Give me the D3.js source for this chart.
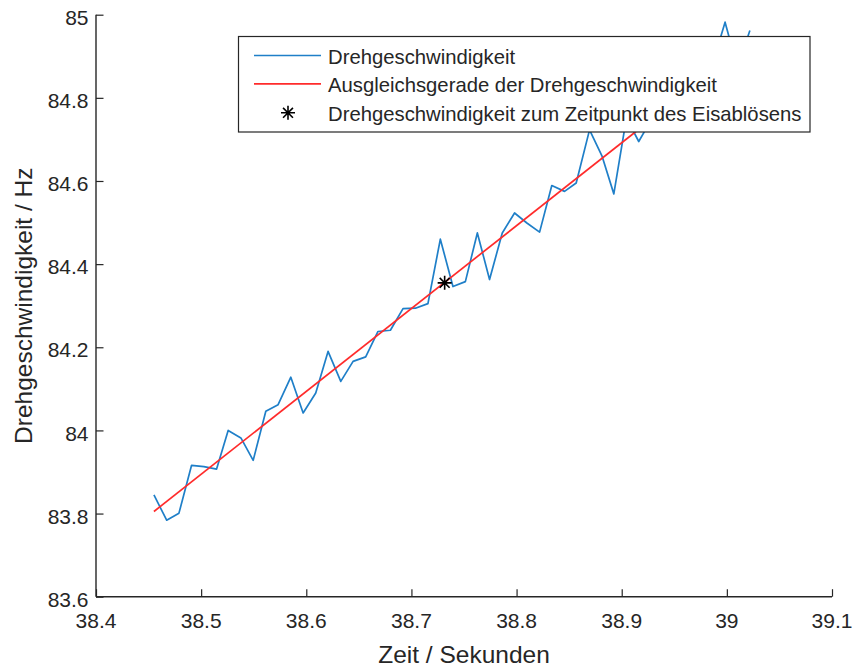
<!DOCTYPE html>
<html>
<head>
<meta charset="utf-8">
<script src="https://cdn.jsdelivr.net/npm/d3@7/dist/d3.min.js"></script>
<style>
  html, body { margin: 0; padding: 0; background: #fff; }
  svg { display: block; font-family: "Liberation Sans", Arial, Helvetica, sans-serif; }
</style>
</head>
<body>
<svg id="chart" width="852" height="668"></svg>
<script>
// ---- data ----
const timeValues = [
  38.4551, 38.4672, 38.4789, 38.4909, 38.5026, 38.5147, 38.5257, 38.5378, 38.5495, 38.5615,
  38.5732, 38.5853, 38.5970, 38.6090, 38.6207, 38.6328, 38.6445, 38.6565, 38.6682, 38.6800,
  38.6920, 38.7038, 38.7157, 38.7275, 38.7395, 38.7513, 38.7627, 38.7743, 38.7864, 38.7981,
  38.8098, 38.8219, 38.8335, 38.8456, 38.8567, 38.8694, 38.8814, 38.8925, 38.9045, 38.9162,
  38.9280, 38.9397, 38.9515, 38.9634, 38.9748, 38.9865, 38.9983, 39.0100, 39.0219
];
const speedValues = [
  83.845, 83.784, 83.801, 83.916, 83.913, 83.907, 84.000, 83.982, 83.928, 84.046,
  84.062, 84.128, 84.042, 84.090, 84.190, 84.118, 84.166, 84.177, 84.238, 84.241,
  84.293, 84.294, 84.305, 84.460, 84.346, 84.358, 84.475, 84.363, 84.475, 84.523,
  84.499, 84.477, 84.589, 84.575, 84.595, 84.723, 84.659, 84.569, 84.752, 84.695,
  84.747, 84.776, 84.796, 84.832, 84.839, 84.882, 84.982, 84.873, 84.962
];
const fitTime = [38.4551, 39.0219];
const fitSpeed = [83.805, 84.935];
const markTime = [38.7316];
const markSpeed = [84.355];

const xTicks = [38.4, 38.5, 38.6, 38.7, 38.8, 38.9, 39.0, 39.1];
const xTickLabels = ["38.4", "38.5", "38.6", "38.7", "38.8", "38.9", "39", "39.1"];
const yTicks = [83.6, 83.8, 84.0, 84.2, 84.4, 84.6, 84.8, 85.0];
const yTickLabels = ["83.6", "83.8", "84", "84.2", "84.4", "84.6", "84.8", "85"];

const legendLabels = [
  "Drehgeschwindigkeit",
  "Ausgleichsgerade der Drehgeschwindigkeit",
  "Drehgeschwindigkeit zum Zeitpunkt des Eisablösens"
];
const xLabel = "Zeit / Sekunden";
const yLabel = "Drehgeschwindigkeit / Hz";

// ---- layout ----
const axisColor = "#262626";
const blue = "#1f7fc8";
const red = "#ff2b2b";
const plot = { left: 96, right: 832, top: 14.7, bottom: 596.7 };

const svg = d3.select("#chart");

const x = d3.scaleLinear().domain([38.4, 39.1]).range([plot.left, plot.right]);
const y = d3.scaleLinear().domain([83.6, 85.0]).range([plot.bottom, plot.top]);

// axes (ticks pointing inward, MATLAB style, box off)
const tickLen = 7.5;
const xAxis = d3.axisBottom(x).tickValues(xTicks).tickSize(-tickLen).tickFormat(() => "");
const yAxis = d3.axisLeft(y).tickValues(yTicks).tickSize(-tickLen).tickFormat(() => "");

const gx = svg.append("g").attr("transform", `translate(0,${plot.bottom})`).call(xAxis);
const gy = svg.append("g").attr("transform", `translate(${plot.left},0)`).call(yAxis);
[gx, gy].forEach(g => {
  g.select(".domain").attr("stroke", axisColor).attr("stroke-width", 1.4);
  g.selectAll(".tick line").attr("stroke", axisColor).attr("stroke-width", 1.2);
});
gx.select(".domain").attr("d", `M${plot.left},0H${plot.right}`);
gy.select(".domain").attr("d", `M0,${plot.bottom}V${plot.top}`);

// tick labels
svg.append("g").selectAll("text").data(xTicks).join("text")
  .attr("x", d => x(d)).attr("y", 628.3)
  .attr("text-anchor", "middle")
  .attr("font-size", 21).attr("fill", axisColor)
  .text((d, i) => xTickLabels[i]);

svg.append("g").selectAll("text").data(yTicks).join("text")
  .attr("x", 88.5).attr("y", d => y(d) + 10.2)
  .attr("text-anchor", "end")
  .attr("font-size", 21).attr("fill", axisColor)
  .text((d, i) => yTickLabels[i]);

// axis labels
svg.append("text")
  .attr("x", (plot.left + plot.right) / 2).attr("y", 663.3)
  .attr("text-anchor", "middle").attr("font-size", 24.5).attr("fill", axisColor)
  .text(xLabel);

svg.append("text")
  .attr("transform", `translate(31.5,${(plot.top + plot.bottom) / 2}) rotate(-90)`)
  .attr("text-anchor", "middle").attr("font-size", 24.5).attr("fill", axisColor)
  .text(yLabel);

// data line
const line = d3.line().x(d => x(d[0])).y(d => y(d[1]));
svg.append("path")
  .datum(timeValues.map((t, i) => [t, speedValues[i]]))
  .attr("d", line).attr("fill", "none")
  .attr("stroke", blue).attr("stroke-width", 1.7).attr("stroke-linejoin", "round");

// fit line
svg.append("path")
  .datum(fitTime.map((t, i) => [t, fitSpeed[i]]))
  .attr("d", line).attr("fill", "none")
  .attr("stroke", red).attr("stroke-width", 1.7);

// asterisk marker
function asteriskPath(r) {
  const d = r * Math.SQRT1_2;
  return `M${-r},0H${r}M0,${-r}V${r}M${-d},${-d}L${d},${d}M${-d},${d}L${d},${-d}`;
}
svg.append("g").selectAll("path").data(markTime).join("path")
  .attr("transform", (d, i) => `translate(${x(d)},${y(markSpeed[i])})`)
  .attr("d", asteriskPath(7)).attr("fill", "none")
  .attr("stroke", "#000").attr("stroke-width", 1.6);

// legend
const legend = { left: 238.5, top: 36.5, right: 810, bottom: 132 };
const lg = svg.append("g");
lg.append("rect")
  .attr("x", legend.left).attr("y", legend.top)
  .attr("width", legend.right - legend.left).attr("height", legend.bottom - legend.top)
  .attr("fill", "#fff").attr("stroke", axisColor).attr("stroke-width", 1.2);

const rowY = [55.5, 83.8, 112.8];
const sampleX0 = 254, sampleX1 = 321, textX = 328;
lg.append("line").attr("x1", sampleX0).attr("x2", sampleX1)
  .attr("y1", rowY[0]).attr("y2", rowY[0]).attr("stroke", blue).attr("stroke-width", 1.7);
lg.append("line").attr("x1", sampleX0).attr("x2", sampleX1)
  .attr("y1", rowY[1]).attr("y2", rowY[1]).attr("stroke", red).attr("stroke-width", 1.7);
lg.append("path")
  .attr("transform", `translate(${(sampleX0 + sampleX1) / 2 + 0.5},${rowY[2]})`)
  .attr("d", asteriskPath(7)).attr("fill", "none")
  .attr("stroke", "#000").attr("stroke-width", 1.6);

lg.selectAll("text.lab").data(legendLabels).join("text")
  .attr("class", "lab")
  .attr("x", textX).attr("y", (d, i) => rowY[i] + 8.3)
  .attr("font-size", 20.3).attr("fill", axisColor)
  .text(d => d);
</script>
</body>
</html>
